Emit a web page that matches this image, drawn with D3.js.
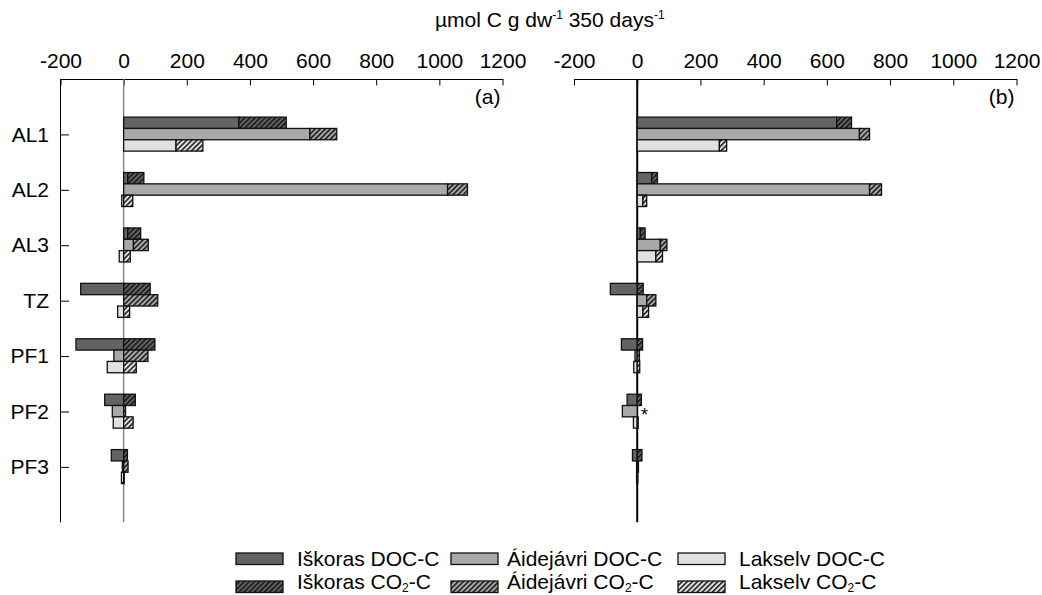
<!DOCTYPE html>
<html>
<head>
<meta charset="utf-8">
<script src="https://cdn.jsdelivr.net/npm/d3@7.9.0/dist/d3.min.js"></script>
<style>
  body { margin: 0; background: #fff; }
  svg { font-family: "Liberation Sans", Arial, sans-serif; }
</style>
</head>
<body>
<svg id="chart" width="1042" height="595"></svg>
<script>
// categories (soil layers) and sites
const categories = ['AL1', 'AL2', 'AL3', 'TZ', 'PF1', 'PF2', 'PF3'];
const sites = ['Iškoras', 'Áidejávri', 'Lakselv'];
const xTicks = [-200, 0, 200, 400, 600, 800, 1000, 1200];

// panel (a) values, µmol C g dw-1 350 days-1
const iskorasDocA   = [365, 13, 13, -136, -151, -60, -39];
const iskorasCo2A   = [150, 51, 41, 84, 99, 37, 12];
const aidejavriDocA = [590, 1026, 31, 0, -31, -36, -4];
const aidejavriCo2A = [85, 63, 47, 108, 77, 6, 14];
const lakselvDocA   = [166, -6, -14, -19, -52, -33, -7];
const lakselvCo2A   = [85, 29, 21, 19, 40, 30, 2];

// panel (b) values
const iskorasDocB   = [631, 46, 10, -85, -50, -32, -15];
const iskorasCo2B   = [47, 18, 15, 19, 17, 13, 15];
const aidejavriDocB = [703, 735, 73, 30, -7, -47, -2];
const aidejavriCo2B = [32, 38, 21, 29, 7, 0, 4];
const lakselvDocB   = [260, 18, 59, 18, -11, -12, -2];
const lakselvCo2B   = [23, 12, 21, 18, 8, 3, 2];

const siteColors = ['#636363', '#a9a9a9', '#e1e1e1'];

const panels = [
  { label: '(a)', range: [60.5, 502.5], frame: true, zeroColor: '#808080', zeroWidth: 1.4,
    doc: [iskorasDocA, aidejavriDocA, lakselvDocA], co2: [iskorasCo2A, aidejavriCo2A, lakselvCo2A] },
  { label: '(b)', range: [574, 1016.5], frame: false, zeroColor: '#000', zeroWidth: 2,
    doc: [iskorasDocB, aidejavriDocB, lakselvDocB], co2: [iskorasCo2B, aidejavriCo2B, lakselvCo2B] }
];

const svg = d3.select('#chart');
const plotTop = 79, plotBottom = 522.3;

// hatch patterns, one per site
const defs = svg.append('defs');
siteColors.forEach((c, i) => {
  const p = defs.append('pattern')
    .attr('id', 'hatch' + i)
    .attr('patternUnits', 'userSpaceOnUse')
    .attr('width', 3.6).attr('height', 3.6)
    .attr('patternTransform', 'rotate(45)');
  p.append('rect').attr('width', 3.6).attr('height', 3.6).attr('fill', c);
  p.append('line').attr('x1', 0.8).attr('y1', 0).attr('x2', 0.8).attr('y2', 3.6)
    .attr('stroke', '#111').attr('stroke-width', 1.5);
});

const y = d3.scalePoint().domain(categories).range([plotTop, plotBottom]).padding(1);
const sub = d3.scaleBand().domain(sites).range([-17.3, 16.7]);

panels.forEach((panel) => {
  const x = d3.scaleLinear().domain([-200, 1200]).range(panel.range);
  const g = svg.append('g');

  // top axis
  g.append('g')
    .attr('transform', `translate(0,${plotTop})`)
    .call(d3.axisTop(x).tickValues(xTicks).tickFormat((d) => String(d))
      .tickSize(-6.5).tickSizeOuter(0).tickPadding(11))
    .call((a) => a.selectAll('text').attr('font-size', 21).attr('fill', '#000'))
    .call((a) => a.selectAll('line,path').attr('stroke', '#000'))
    .attr('font-family', null);

  if (panel.frame) {
    g.append('g')
      .attr('transform', `translate(${panel.range[0]},0)`)
      .call(d3.axisLeft(y).tickSize(-8.5).tickSizeOuter(0).tickPadding(11.5))
      .call((a) => a.select('.domain').attr('d', `M0,${plotTop}V${plotBottom}`))
      .call((a) => a.selectAll('text').attr('font-size', 21).attr('fill', '#000'))
      .call((a) => a.selectAll('line,path').attr('stroke', '#000'))
      .attr('font-family', null);
  }

  // zero line
  g.append('line')
    .attr('x1', x(0)).attr('x2', x(0))
    .attr('y1', plotTop).attr('y2', plotBottom)
    .attr('stroke', panel.zeroColor).attr('stroke-width', panel.zeroWidth);

  // bars
  const rows = [];
  categories.forEach((cat, i) => {
    sites.forEach((s, j) => {
      rows.push({ cat, site: s, j, doc: panel.doc[j][i], co2: panel.co2[j][i] });
    });
  });

  const bars = g.append('g');
  rows.forEach((d) => {
    const yy = y(d.cat) + sub(d.site);
    const h = sub.bandwidth();
    if (d.doc !== 0) {
      bars.append('rect')
        .attr('x', x(Math.min(0, d.doc))).attr('y', yy)
        .attr('width', Math.abs(x(d.doc) - x(0))).attr('height', h)
        .attr('fill', siteColors[d.j]).attr('stroke', '#111').attr('stroke-width', 1.3);
    }
    if (d.co2 !== 0) {
      const base = d.doc > 0 ? d.doc : 0;
      bars.append('rect')
        .attr('x', x(base)).attr('y', yy)
        .attr('width', x(base + d.co2) - x(base)).attr('height', h)
        .attr('fill', `url(#hatch${d.j})`).attr('stroke', '#111').attr('stroke-width', 1.3);
    }
  });

  g.append('text')
    .attr('x', panel.range[1] - 2).attr('y', 104)
    .attr('text-anchor', 'end').attr('font-size', 21)
    .text(panel.label);
});

// asterisk in panel (b), PF2 Áidejávri
svg.append('text')
  .attr('x', 641).attr('y', 421)
  .attr('font-size', 18)
  .text('*');

// axis title
const title = svg.append('text').attr('x', 435).attr('y', 27).attr('font-size', 21);
title.append('tspan').text('µmol C g dw');
title.append('tspan').attr('font-size', 12).attr('dy', -8).text('-1');
title.append('tspan').attr('dy', 8).text(' 350 days');
title.append('tspan').attr('font-size', 12).attr('dy', -8).text('-1');

// legend
const legendX = [236, 451, 678];
const textX = [297, 507, 739];
const legend = svg.append('g');
sites.forEach((s, i) => {
  legend.append('rect')
    .attr('x', legendX[i]).attr('y', 553).attr('width', 47).attr('height', 11.5)
    .attr('fill', siteColors[i]).attr('stroke', '#111').attr('stroke-width', 1.3);
  legend.append('text')
    .attr('x', textX[i]).attr('y', 566).attr('font-size', 21)
    .text(s + ' DOC-C');
  legend.append('rect')
    .attr('x', legendX[i]).attr('y', 581).attr('width', 47).attr('height', 11.5)
    .attr('fill', `url(#hatch${i})`).attr('stroke', '#111').attr('stroke-width', 1.3);
  const t = legend.append('text')
    .attr('x', textX[i]).attr('y', 589).attr('font-size', 21);
  t.append('tspan').text(s + ' CO');
  t.append('tspan').attr('font-size', 12).attr('dy', 3).text('2');
  t.append('tspan').attr('dy', -3).text('-C');
});
</script>
</body>
</html>
